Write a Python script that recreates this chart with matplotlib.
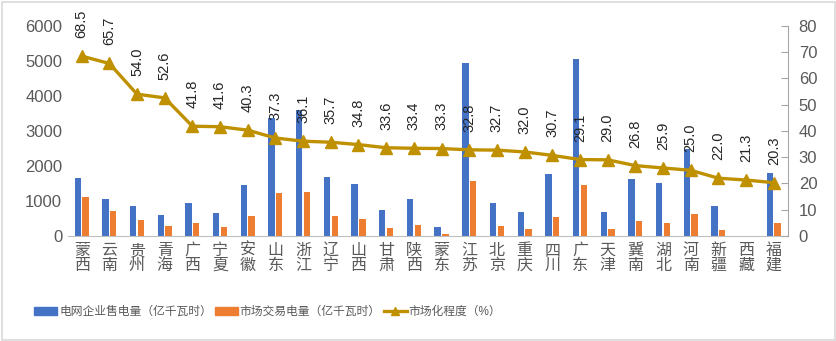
import matplotlib
matplotlib.use("Agg")
import matplotlib.pyplot as plt
import numpy as np
from matplotlib.patches import Patch, Rectangle
from matplotlib.lines import Line2D

plt.rcParams['font.family'] = ['Liberation Sans', 'Noto Sans CJK SC']

# provinces, sorted by marketisation degree
regions = ["蒙西", "云南", "贵州", "青海", "广西", "宁夏", "安徽", "山东", "浙江",
           "辽宁", "山西", "甘肃", "陕西", "蒙东", "江苏", "北京", "重庆", "四川",
           "广东", "天津", "冀南", "湖北", "河南", "新疆", "西藏", "福建"]
grid_sales = [1670, 1060, 860, 600, 950, 660, 1460, 3370, 3600,
              1690, 1490, 740, 1060, 260, 4940, 950, 690, 1780,
              5060, 690, 1630, 1510, 2490, 860, 0, 1800]
market_trade = [1120, 700, 460, 290, 380, 260, 570, 1230, 1260,
                570, 490, 230, 320, 60, 1580, 290, 200, 540,
                1460, 200, 430, 370, 630, 170, 0, 370]
market_pct = [68.5, 65.7, 54.0, 52.6, 41.8, 41.6, 40.3, 37.3, 36.1,
              35.7, 34.8, 33.6, 33.4, 33.3, 32.8, 32.7, 32.0, 30.7,
              29.1, 29.0, 26.8, 25.9, 25.0, 22.0, 21.3, 20.3]

blue = "#4472C4"
orange = "#ED7D31"
gold = "#BF9000"
grey_txt = "#595959"

fig = plt.figure(figsize=(8.37, 3.41), dpi=100)
ax = fig.add_axes([0.081, 0.308, 0.86, 0.616])
ax2 = ax.twinx()

x = np.arange(len(regions))
w = 0.23
ax.bar(x - 0.14, grid_sales, width=w, color=blue, zorder=2)
ax.bar(x + 0.14, market_trade, width=w, color=orange, zorder=2)

ax2.plot(x, market_pct, color=gold, lw=2.4, marker="^", markersize=8, zorder=3)
for i, v in enumerate(market_pct):
    ax2.annotate(f"{v:.1f}", (i, v), xytext=(0, 13), textcoords="offset points",
                 rotation=90, ha="center", va="bottom", fontsize=10.5, color="#262626")

ax.set_xlim(-0.5, len(regions) - 0.5)
ax.set_ylim(0, 6000)
ax.set_yticks(range(0, 6001, 1000))
ax2.set_ylim(0, 80)
ax2.set_yticks(range(0, 81, 10))

ax.set_xticks(x)
ax.set_xticklabels(["\n".join(r) for r in regions], fontsize=11.5, color=grey_txt,
                   linespacing=1.0)
ax.tick_params(axis="x", length=0, pad=5)
ax.tick_params(axis="y", length=0, labelsize=12, labelcolor=grey_txt, pad=4)
ax2.tick_params(axis="y", direction="in", length=5, color="#A6A6A6",
                labelsize=12, labelcolor=grey_txt, pad=8)

for s in ["top", "left", "right"]:
    ax.spines[s].set_visible(False)
    ax2.spines[s].set_visible(False)
ax.spines["bottom"].set_color("#BFBFBF")
ax2.spines["bottom"].set_visible(False)
ax2.spines["right"].set_visible(True)
ax2.spines["right"].set_color("#A6A6A6")

handles = [Patch(color=blue), Patch(color=orange),
           Line2D([], [], color=gold, lw=2.4, marker="^", markersize=6)]
labels = ["电网企业售电量（亿千瓦时）", "市场交易电量（亿千瓦时）", "市场化程度（%）"]
fig.legend(handles, labels, loc="center left", bbox_to_anchor=(0.034, 0.085), ncol=3,
           frameon=False, fontsize=8.5, labelcolor=grey_txt, handlelength=1.95,
           handleheight=0.6, handletextpad=0.15, columnspacing=0.25, borderpad=0)

fig.patches.append(Rectangle((0.002, 0.004), 0.996, 0.99, transform=fig.transFigure,
                             fill=False, edgecolor="#D9D9D9", lw=1.2))

fig.savefig("out.png", dpi=100)
